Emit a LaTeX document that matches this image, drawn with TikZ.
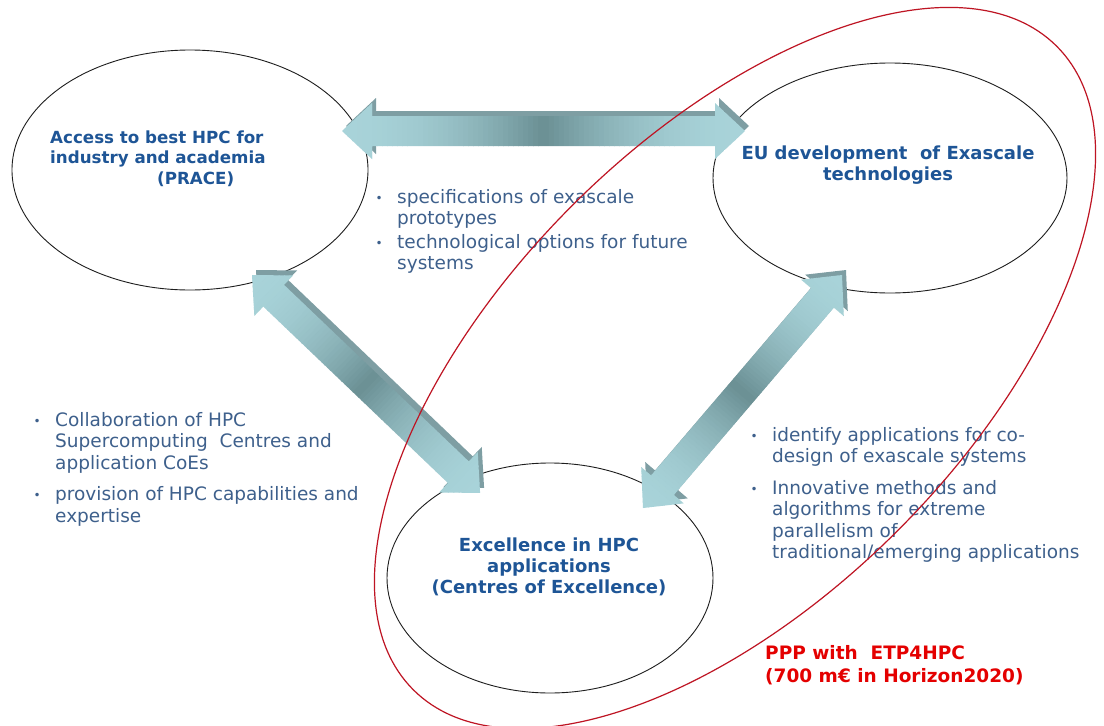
\documentclass[tikz,border=0pt]{standalone}
\usepackage{fontspec}
\setmainfont{DejaVu Sans}
\usetikzlibrary{shapes.geometric}
\definecolor{hblue}{RGB}{30,85,150}
\definecolor{bblue}{RGB}{62,96,140}
\definecolor{pred}{RGB}{228,0,0}
\definecolor{ellred}{RGB}{190,20,35}
\definecolor{arrlight}{RGB}{168,211,217}
\definecolor{arrdark}{RGB}{106,143,147}
\definecolor{arrbevel}{RGB}{126,158,163}
\definecolor{ellline}{RGB}{30,30,30}

% #1 x, #2 y of start tip, #3 angle, #4 length
\newcommand\fatarrow[4]{%
  \begin{scope}[shift={(#1+4,#2-5)}, rotate=#3]
    \fill[arrbevel] (0,0) -- (30,-28) -- (30,-15) -- (#4-30,-15) -- (#4-30,-28)
      -- (#4,0) -- (#4-30,28) -- (#4-30,15) -- (30,15) -- (30,28) -- cycle;
  \end{scope}
  \begin{scope}[shift={(#1,#2)}, rotate=#3]
    \clip (0,0) -- (30,-28) -- (30,-15) -- (#4-30,-15) -- (#4-30,-28)
      -- (#4,0) -- (#4-30,28) -- (#4-30,15) -- (30,15) -- (30,28) -- cycle;
    \pgfmathsetmacro\stepw{#4/80}%
    \foreach \i in {0,...,79}{%
      \pgfmathsetmacro\tq{1-abs(2*(\i+0.5)/80-1)}%
      \pgfmathsetmacro\p{100*\tq*\tq}%
      \pgfmathsetmacro\xs{\i*\stepw}%
      \fill[arrdark!\p!arrlight] (\xs,-32) rectangle ++(\stepw+0.6,64);
    }
  \end{scope}}

\newcommand\bul{\llap{\makebox[36pt]{\fontsize{12}{12}\selectfont\raisebox{1pt}{•}}}}

\tikzset{
  bubble/.style={draw=ellline, line width=0.9pt, ellipse, inner sep=0},
  head/.style={font=\bfseries\fontsize{18}{21}\selectfont, text=hblue, inner sep=0},
  smallhead/.style={font=\bfseries\fontsize{16.7}{20.5}\selectfont, text=hblue, inner sep=0},
  body/.style={font=\fontsize{18.5}{21.5}\selectfont, text=bblue, inner sep=0},
  redtext/.style={font=\bfseries\fontsize{18.5}{23}\selectfont, text=pred, inner sep=0}
}

\begin{document}
\begin{tikzpicture}[x=1pt, y=-1pt]
\useasboundingbox (0,0) rectangle (1104,726);
\fill[white] (0,0) rectangle (1104,726);

% ellipses
\node[bubble, minimum width=356pt, minimum height=240pt] (prace) at (190,170) {};
\node[bubble, minimum width=354pt, minimum height=230pt] (eu) at (890,178) {};
\node[bubble, minimum width=326pt, minimum height=230pt] (coe) at (550,578) {};

% block arrows
\fatarrow{342}{131}{0}{403}
\fatarrow{252}{275}{-43.7}{315.5}
\fatarrow{643}{508}{49.5}{306.4}

% headings
\node[smallhead, anchor=base west] (tprace) at (50,143)
  {\begin{tabular}[t]{@{}l@{}}Access to best HPC for\\industry and academia\\\hspace*{107pt}(PRACE)\end{tabular}};
\node[head, anchor=base] (teu) at (888,159)
  {\begin{tabular}[t]{@{}c@{}}EU development~ of Exascale\\technologies\end{tabular}};
\node[head, anchor=base] (tcoe) at (549,551)
  {\begin{tabular}[t]{@{}c@{}}Excellence in HPC\\applications\\(Centres of Excellence)\end{tabular}};

% bullet lists
\node[body, anchor=base west] (ltop) at (397,203)
  {\begin{tabular}[t]{@{}l@{}}\bul specifications of exascale\\prototypes\\[2pt]\bul technological options for future\\systems\end{tabular}};
\node[body, anchor=base west] (lleft) at (55,426)
  {\begin{tabular}[t]{@{}l@{}}\bul Collaboration of HPC\\Supercomputing~ Centres and\\application CoEs\\[10pt]\bul provision of HPC capabilities and\\expertise\end{tabular}};
\node[body, anchor=base west] (lright) at (772,441)
  {\begin{tabular}[t]{@{}l@{}}\bul identify applications for co-\\design of exascale systems\\[10pt]\bul Innovative methods and\\algorithms for extreme\\parallelism of\\traditional/emerging applications\end{tabular}};

\node[redtext, anchor=base west] (tppp) at (765,659)
  {\begin{tabular}[t]{@{}l@{}}PPP with~ ETP4HPC\\(700 m€ in Horizon2020)\end{tabular}};

% red ellipse
\node[draw=ellred, line width=1.2pt, ellipse, inner sep=0, rotate=45,
      minimum width=910pt, minimum height=460pt] (ppp) at (735,368) {};
\end{tikzpicture}
\end{document}
